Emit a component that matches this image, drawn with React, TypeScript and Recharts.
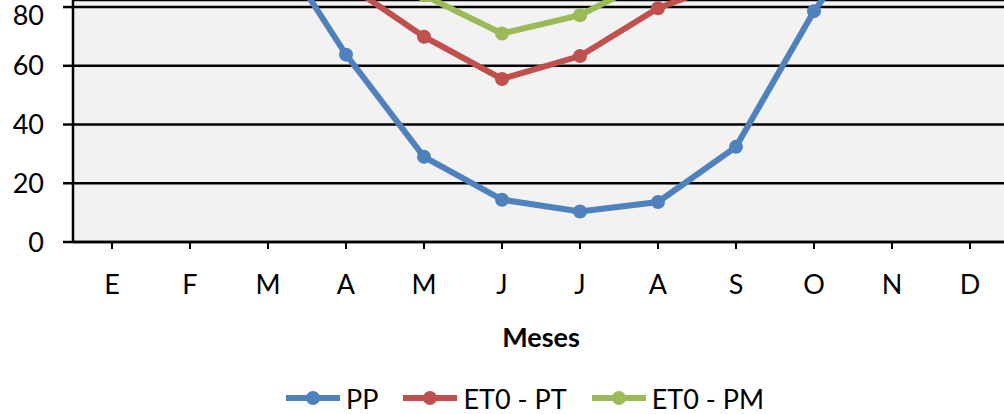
import { LineChart, Line, XAxis, YAxis, CartesianGrid } from 'recharts';

const months = ['E', 'F', 'M', 'A', 'M', 'J', 'J', 'A', 'S', 'O', 'N', 'D'];
const pp = [155, 145, 105, 63.8, 29, 14.4, 10.4, 13.6, 32.4, 78.6, 115, 140];
const et0Pt = [100, 96, 95, 88, 69.9, 55.5, 63.3, 79.6, 89.6, 98, 104, 105];
const et0Pm = [112, 108, 104, 95, 84, 71, 77.2, 90.7, 100, 108, 114, 115];
const yTicks = [0, 20, 40, 60, 80];

const data = months.map((m, i) => ({
    month: m,
    pp: pp[i],
    pt: et0Pt[i],
    pm: et0Pm[i],
}));

const FONT = 'Lato, "Open Sans", sans-serif';

const legendItems = [
    { name: 'PP', color: '#4f81bd' },
    { name: 'ET0 - PT', color: '#c0504d' },
    { name: 'ET0 - PM', color: '#9bbb59' },
];

function ChartLegend() {
    return (
        <div style={styles.legend}>
            {legendItems.map((item) => (
                <div key={item.name} style={styles.legendItem}>
                    <svg width={56} height={16}>
                        <line x1={1} y1={8} x2={55} y2={8} stroke={item.color} strokeWidth={6} />
                        <circle cx={28} cy={8} r={7} fill={item.color} />
                    </svg>
                    <span style={{ marginLeft: 5 }}>{item.name}</span>
                </div>
            ))}
        </div>
    );
}

export default function App() {
    return (
        <div style={styles.frame}>
            <LineChart
                width={1020}
                height={414}
                data={data}
                margin={{ top: 0, right: 11, bottom: 120, left: 0 }}
            >
                <CartesianGrid
                    vertical={false}
                    stroke="#000"
                    strokeWidth={2.5}
                    fill="#f2f2f2"
                    fillOpacity={1}
                />
                <XAxis
                    dataKey="month"
                    height={52}
                    padding={{ left: 39, right: 39 }}
                    tickSize={7}
                    tickMargin={26}
                    axisLine={{ stroke: '#000', strokeWidth: 2.5 }}
                    tickLine={{ stroke: '#000', strokeWidth: 2 }}
                    tick={{ fill: '#000', fontSize: 27, fontFamily: FONT }}
                />
                <YAxis
                    width={73}
                    domain={[0, 82.4]}
                    ticks={yTicks}
                    allowDataOverflow
                    tickSize={10}
                    tickMargin={19}
                    axisLine={{ stroke: '#000', strokeWidth: 2.5 }}
                    tickLine={{ stroke: '#000', strokeWidth: 2.5 }}
                    tick={{ fill: '#000', fontSize: 27, fontFamily: FONT }}
                />
                <Line dataKey="pp" name="PP" stroke="#4f81bd" strokeWidth={6} dot={{ r: 7, fill: '#4f81bd', strokeWidth: 0 }} isAnimationActive={false} />
                <Line dataKey="pt" name="ET0 - PT" stroke="#c0504d" strokeWidth={6} dot={{ r: 7, fill: '#c0504d', strokeWidth: 0 }} isAnimationActive={false} />
                <Line dataKey="pm" name="ET0 - PM" stroke="#9bbb59" strokeWidth={6} dot={{ r: 7, fill: '#9bbb59', strokeWidth: 0 }} isAnimationActive={false} />
            </LineChart>
            <div style={styles.axisTitle}>Meses</div>
            <ChartLegend />
        </div>
    );
}

const styles: Record<string, React.CSSProperties> = {
    frame: {
        position: 'absolute',
        left: 0,
        top: 0,
        width: 1004,
        height: 414,
        overflow: 'hidden',
        background: '#fff',
        fontFamily: FONT,
    },
    axisTitle: {
        position: 'absolute',
        left: 441,
        width: 200,
        top: 320,
        textAlign: 'center',
        fontSize: 27,
        fontWeight: 700,
        color: '#000',
    },
    legend: {
        position: 'absolute',
        left: 285,
        top: 383,
        height: 30,
        display: 'flex',
        alignItems: 'center',
        gap: 24,
        fontSize: 27,
        color: '#000',
        whiteSpace: 'nowrap',
    },
    legendItem: {
        display: 'flex',
        alignItems: 'center',
    },
};
